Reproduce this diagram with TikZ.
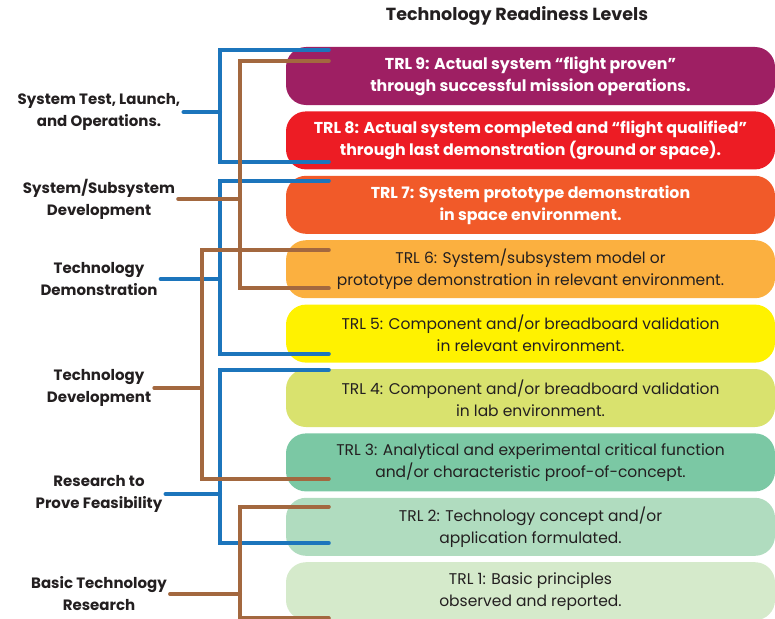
\documentclass[tikz,border=0pt]{standalone}
\usepackage{fontspec}
\setmainfont{Poppins}
\usepackage{xcolor}
\usepackage{tikz}
\usetikzlibrary{positioning,calc}

\definecolor{trlnine}{HTML}{9E1F63}
\definecolor{trleight}{HTML}{ED1C24}
\definecolor{trlseven}{HTML}{F15A29}
\definecolor{trlsix}{HTML}{FBB040}
\definecolor{trlfive}{HTML}{FFF200}
\definecolor{trlfour}{HTML}{D9E26E}
\definecolor{trlthree}{HTML}{7BC8A4}
\definecolor{trltwo}{HTML}{B0DCBF}
\definecolor{trlone}{HTML}{D5EACB}
\definecolor{linkblue}{HTML}{1C75BC}
\definecolor{linkbrown}{HTML}{A3683F}
\definecolor{textdark}{HTML}{231F20}

\begin{document}
\begin{tikzpicture}[
x=1pt, y=-1pt,
node distance=6pt,
level/.style={
    rounded corners=20pt,
    minimum width=489pt,
    minimum height=58pt,
    inner sep=0pt,
    align=center,
    text=textdark,
    font=\fontsize{15.5}{22}\selectfont
},
hot/.style={
    level,
    text=white,
    font=\fontsize{15.8}{22}\selectfont\bfseries
},
phase/.style={
    align=center,
    inner sep=3pt,
    text=textdark,
    font=\fontsize{15}{22}\selectfont\bfseries
},
bluelink/.style={
    draw=linkblue,
    line width=4pt,
    line cap=round
},
brownlink/.style={
    draw=linkbrown,
    line width=4pt,
    line cap=round
}
]

\useasboundingbox (0,0) rectangle (775,618);

\node[font=\fontsize{17.5}{20}\selectfont\bfseries, text=textdark] (title) at (517,16)
{Technology Readiness Levels};

\node[hot, fill=trlnine] (trl9) at (530.5,76)
{TRL 9: Actual system “flight proven”\\through successful mission operations.};

\node[hot, fill=trleight, below=of trl9] (trl8)
{TRL 8: Actual system completed and “flight qualified”\\through last demonstration (ground or space).};

\node[hot, fill=trlseven, below=of trl8] (trl7)
{TRL 7: System prototype demonstration\\in space environment.};

\node[level, fill=trlsix, below=of trl7] (trl6)
{TRL 6: System/subsystem model or\\prototype demonstration in relevant environment.};

\node[level, fill=trlfive, below=of trl6] (trl5)
{TRL 5: Component and/or breadboard validation\\in relevant environment.};

\node[level, fill=trlfour, below=of trl5] (trl4)
{TRL 4: Component and/or breadboard validation\\in lab environment.};

\node[level, fill=trlthree, below=of trl4] (trl3)
{TRL 3: Analytical and experimental critical function\\and/or characteristic proof-of-concept.};

\node[level, fill=trltwo, below=of trl3] (trl2)
{TRL 2: Technology concept and/or\\application formulated.};

\node[level, fill=trlone, below=of trl2] (trl1)
{TRL 1: Basic principles\\observed and reported.};

\node[phase] (launch) at (99,112) {System Test, Launch,\\and Operations.};
\node[phase] (sysdev) at (99,199) {System/Subsystem\\Development};
\node[phase] (techdemo) at (99,279) {Technology\\Demonstration};
\node[phase] (techdev) at (99,388) {Technology\\Development};
\node[phase] (feasible) at (99,494) {Research to\\Prove Feasibility};
\node[phase] (basic) at (99,594) {Basic Technology\\Research};

\coordinate (bluex) at (220,0);
\coordinate (brownx) at (240,0);
\coordinate (brownxx) at (202,0);

\coordinate (launchtop) at ($(trl9.north west)+(43,3)$);
\coordinate (launchbot) at ($(trl8.south west)+(43,-8)$);
\coordinate (sysdevtop) at ($(trl9.north west)+(43,14)$);
\coordinate (sysdevbot) at ($(trl6.south west)+(43,-10)$);
\coordinate (demotop) at ($(trl7.north west)+(43,5)$);
\coordinate (demobot) at ($(trl5.south west)+(43,-9)$);
\coordinate (devtop) at ($(trl6.north west)+(43,10)$);
\coordinate (devbot) at ($(trl3.south west)+(43,-13)$);
\coordinate (feastop) at ($(trl4.north west)+(43,1)$);
\coordinate (feasbot) at ($(trl2.south west)+(43,-13)$);
\coordinate (basictop) at ($(trl2.north west)+(43,9)$);
\coordinate (basicbot) at ($(trl1.south west)+(43,-2)$);

\draw[bluelink] (launchtop) -- (launchtop -| bluex) -- (launchbot -| bluex) -- (launchbot);
\draw[bluelink] (launch.east) -- (launch.east -| bluex);
\draw[bluelink] (demotop) -- (demotop -| bluex) -- (demobot -| bluex) -- (demobot);
\draw[bluelink] (techdemo.east) -- (techdemo.east -| bluex);
\draw[bluelink] (feastop) -- (feastop -| bluex) -- (feasbot -| bluex) -- (feasbot);
\draw[bluelink] (feasible.east) -- (feasible.east -| bluex);

\draw[brownlink] (sysdevtop) -- (sysdevtop -| brownx) -- (sysdevbot -| brownx) -- (sysdevbot);
\draw[brownlink] (sysdev.east) -- (sysdev.east -| brownx);
\draw[brownlink] (devtop) -- (devtop -| brownxx) -- (devbot -| brownxx) -- (devbot);
\draw[brownlink] (techdev.east) -- (techdev.east -| brownxx);
\draw[brownlink] (basictop) -- (basictop -| brownx) -- (basicbot -| brownx) -- (basicbot);
\draw[brownlink] (basic.east) -- (basic.east -| brownx);

\end{tikzpicture}
\end{document}
